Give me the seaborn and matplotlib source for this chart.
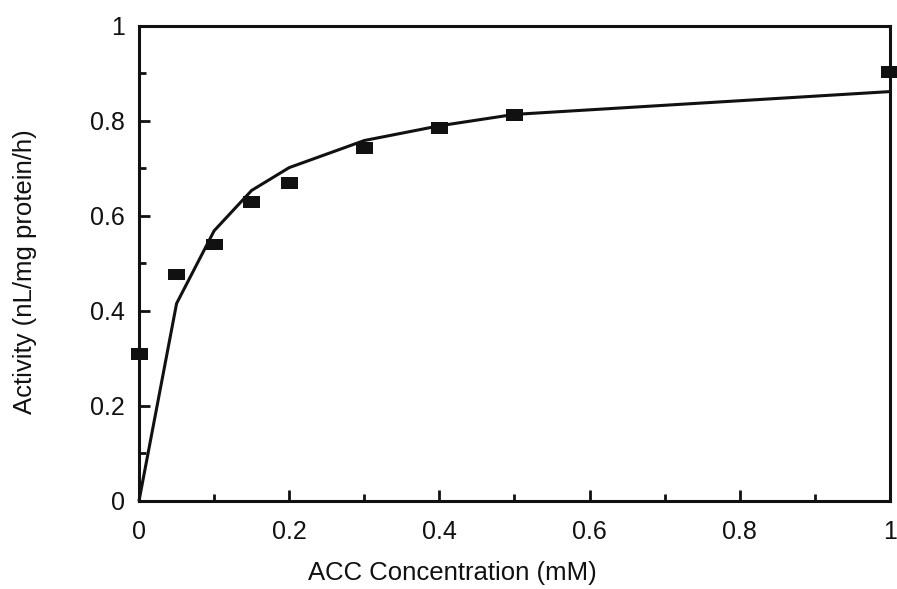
import matplotlib
matplotlib.use("Agg")
import matplotlib.pyplot as plt
from matplotlib.ticker import MultipleLocator
import seaborn as sns
import pandas as pd

# Measured activity at each ACC concentration
conc = [0.0, 0.05, 0.1, 0.15, 0.2, 0.3, 0.4, 0.5, 1.0]
activity = [0.309, 0.476, 0.539, 0.629, 0.669, 0.743, 0.785, 0.811, 0.903]

# Fitted saturation curve evaluated at the same concentrations
fit = [0.0, 0.415, 0.568, 0.653, 0.701, 0.758, 0.789, 0.813, 0.861]

x_ticks = [0, 0.2, 0.4, 0.6, 0.8, 1]
x_tick_labels = ["0", "0.2", "0.4", "0.6", "0.8", "1"]
y_ticks = [0, 0.2, 0.4, 0.6, 0.8, 1]
y_tick_labels = ["0", "0.2", "0.4", "0.6", "0.8", "1"]

df = pd.DataFrame({"conc": conc, "activity": activity, "fit": fit})

sns.set_style("ticks")
plt.rcParams["font.family"] = ["Liberation Sans", "DejaVu Sans"]

ink = "#111111"
fig = plt.figure(figsize=(8.97, 5.89), dpi=100)
ax = fig.add_axes([0.155, 0.150, 0.837, 0.8066])

sns.lineplot(data=df, x="conc", y="fit", ax=ax, color=ink,
             linewidth=2.2, clip_on=False)

rect = [(-1.45, -1), (1.45, -1), (1.45, 1), (-1.45, 1), (-1.45, -1)]
sns.scatterplot(data=df, x="conc", y="activity", ax=ax, marker=rect,
                s=150, color=ink, edgecolor="none", clip_on=False,
                zorder=5)

ax.set_xlim(0, 1)
ax.set_ylim(0, 1)
ax.set_xticks(x_ticks)
ax.set_xticklabels(x_tick_labels)
ax.set_yticks(y_ticks)
ax.set_yticklabels(y_tick_labels)
ax.xaxis.set_minor_locator(MultipleLocator(0.1))
ax.yaxis.set_minor_locator(MultipleLocator(0.1))

ax.tick_params(axis="both", which="major", direction="in", length=8,
               width=2, labelsize=18, colors=ink)
ax.tick_params(axis="both", which="minor", direction="in", length=5,
               width=2, colors=ink)
ax.tick_params(axis="x", which="major", pad=14)
ax.tick_params(axis="y", which="major", pad=10)

for side in ["left", "right", "top", "bottom"]:
    ax.spines[side].set_visible(True)
    ax.spines[side].set_linewidth(2.2)
    ax.spines[side].set_color(ink)

ax.set_xlabel("ACC Concentration (mM)", fontsize=18.5, color=ink)
ax.set_ylabel("Activity (nL/mg protein/h)", fontsize=18.5, color=ink)
ax.xaxis.set_label_coords(0.417, -0.128)
ax.yaxis.set_label_coords(-0.136, 0.482)

fig.savefig("out.png", dpi=100, facecolor="white")
